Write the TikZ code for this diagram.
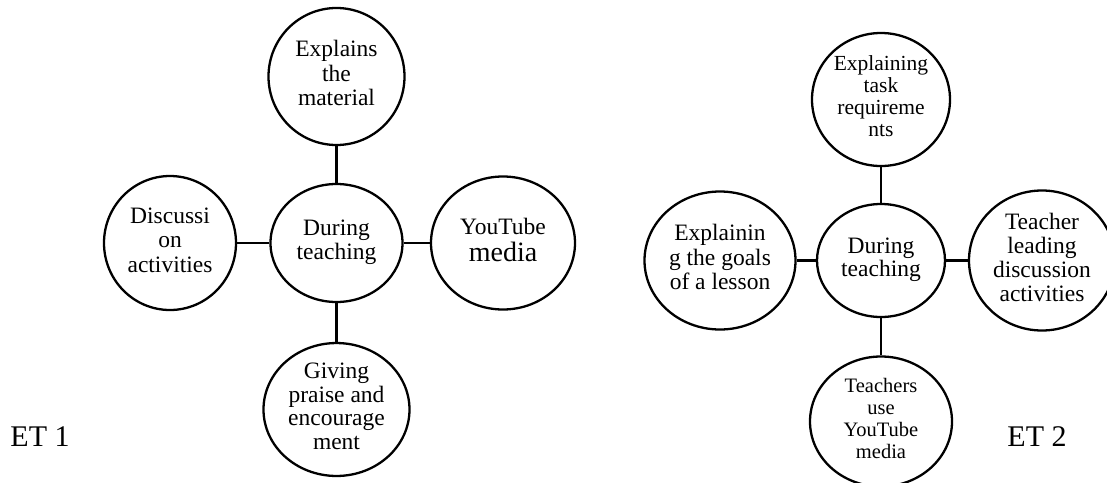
\documentclass[tikz,border=0pt]{standalone}
\usepackage{fontspec}
\setmainfont{Liberation Serif}
\usetikzlibrary{matrix, shapes.geometric}
\newcommand{\ml}[1]{\begin{tabular}{@{}c@{}}#1\end{tabular}}
\newcommand{\fs}[2]{\fontsize{#1}{#2}\selectfont}

\tikzset{
  bubble/.style={ellipse, draw, line width=2.3pt, inner sep=0pt, font=\fs{23.5}{24.5}},
  sz/.style 2 args={minimum width=#1pt, minimum height=#2pt},
  link/.style={line width=2.3pt},
  tag/.style={inner sep=0pt, font=\fs{30}{30}}
}

\begin{document}
\begin{tikzpicture}[x=1pt, y=-1pt]
  \useasboundingbox (0,0) rectangle (1107,482);
  \matrix (et1)
    [matrix of nodes,
     nodes={bubble, anchor=center},
     column sep={166.5pt,between origins},
     row sep={166.5pt,between origins},
     matrix anchor=et1-2-2.center] at (336.5,243)
  {
    & |[sz={136}{137}]| \ml{Explains\\the\\material} & \\
    |[sz={132}{134}]| \ml{Discussi\\on\\activities}
      & |[sz={132}{118}, font=\fs{23.5}{23.5}]| \ml{During\\teaching}
      & |[sz={144}{133}]| \ml{YouTube\\{\fs{28}{26}media}} \\
    & |[sz={146}{125}, font=\fs{23.5}{23.5}]| \ml{Giving\\praise and\\encourage\\ment} & \\
  };

  \matrix (et2)
    [matrix of nodes,
     nodes={bubble, anchor=center},
     column sep={161pt,between origins},
     row sep={161pt,between origins},
     matrix anchor=et2-2-2.center] at (881,260.5)
  {
    & |[sz={138}{133}, font=\fs{21.5}{22}]| \ml{Explaining\\task\\requireme\\nts} & \\
    |[sz={151}{138}]| \ml{Explainin\\g the goals\\of a lesson}
      & |[sz={128}{113}, font=\fs{23.5}{23.5}]| \ml{During\\teaching}
      & |[sz={146}{140}, font=\fs{23.5}{24}]| \ml{Teacher\\leading\\discussion\\activities} \\
    & |[sz={142}{130}, font=\fs{20.5}{22}]| \ml{Teachers\\use\\YouTube\\media} & \\
  };

  \foreach \m in {et1,et2}{
    \foreach \cell in {1-2,2-1,2-3,3-2}{
      \draw [link] (\m-2-2) -- (\m-\cell);
    };
  };

  \node [tag] (lab1) at (40,437) {ET 1};
  \node [tag] (lab2) at (1037,437) {ET 2};
\end{tikzpicture}
\end{document}
